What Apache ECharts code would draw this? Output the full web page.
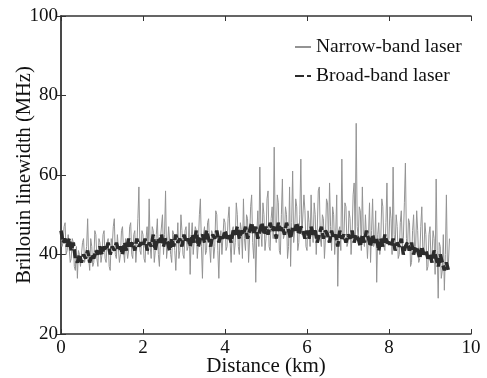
<!DOCTYPE html>
<html>
<head>
<meta charset="utf-8">
<script src="https://cdn.jsdelivr.net/npm/echarts@6/dist/echarts.min.js"></script>
<style>
  html, body { margin: 0; padding: 0; background: #fff; }
  #chart { width: 487px; height: 378px; }
</style>
</head>
<body>
<div id="chart"></div>
<script>
var dom = document.getElementById("chart");
var myChart = echarts.init(dom);

// sampling steps along the fibre (km)
var narrowStep = 0.025;
var broadStep = 0.05;

// Narrow-band laser, MHz (one value per 0.025 km)
var narrowBand = [
    46, 42, 43, 47, 48, 40, 41, 45, 45, 38, 39, 44, 43, 37, 36, 42, 34, 41, 40, 37,
    37, 43, 44, 38, 38, 42, 49, 39, 36, 44, 42, 37, 38, 46, 45, 39, 37, 44, 43, 38,
    40, 45, 46, 39, 38, 43, 44, 37, 36, 44, 42, 47, 49, 40, 39, 45, 45, 38, 40, 46,
    47, 41, 38, 44, 44, 39, 41, 47, 48, 40, 39, 45, 46, 38, 42, 49, 57, 41, 40, 46,
    45, 39, 38, 44, 47, 40, 54, 42, 39, 47, 46, 38, 41, 45, 49, 40, 37, 44, 44, 50,
    40, 45, 56, 39, 42, 47, 47, 40, 38, 46, 45, 41, 36, 43, 48, 39, 41, 50, 46, 40,
    39, 46, 47, 41, 42, 48, 35, 44, 48, 40, 40, 47, 46, 39, 43, 50, 54, 42, 34, 45,
    47, 40, 41, 48, 49, 42, 38, 46, 45, 39, 42, 51, 50, 41, 34, 44, 46, 40, 40, 49,
    48, 41, 42, 49, 52, 43, 38, 46, 47, 40, 43, 53, 50, 42, 40, 48, 46, 39, 54, 44,
    41, 50, 49, 38, 44, 52, 55, 43, 39, 47, 33, 45, 51, 42, 62, 46, 42, 53, 50, 41,
    44, 54, 56, 42, 41, 49, 52, 44, 67, 46, 43, 55, 53, 41, 40, 50, 59, 44, 45, 52,
    50, 39, 42, 57, 37, 48, 61, 43, 46, 54, 52, 41, 43, 50, 64, 45, 45, 55, 51, 42,
    41, 51, 48, 42, 55, 46, 43, 53, 50, 40, 46, 56, 57, 44, 42, 50, 49, 39, 44, 54,
    53, 43, 58, 47, 41, 52, 50, 40, 45, 55, 32, 46, 47, 41, 64, 45, 44, 53, 52, 42,
    43, 51, 49, 40, 45, 55, 58, 44, 73, 47, 44, 52, 51, 41, 57, 45, 42, 50, 50, 39,
    45, 53, 38, 46, 54, 42, 43, 51, 33, 45, 48, 40, 44, 54, 52, 42, 41, 48, 58, 43,
    44, 52, 49, 40, 62, 45, 42, 50, 47, 39, 40, 48, 51, 42, 44, 53, 63, 44, 41, 49,
    48, 37, 38, 46, 50, 41, 42, 51, 46, 38, 39, 47, 52, 41, 40, 48, 45, 36, 37, 45,
    47, 38, 40, 46, 44, 35, 59, 41, 29, 43, 42, 34, 36, 45, 31, 40, 55, 37, 38, 44
];

// Broad-band laser, MHz (one value per 0.05 km)
var broadBand = [
    46, 43, 44, 42, 44, 41, 43, 39, 38, 40, 38, 40, 39, 41, 38, 40, 39, 41, 40, 42,
    40, 42, 41, 43, 40, 42, 41, 43, 41, 42, 40, 43, 41, 44, 42, 43, 41, 44, 42, 43,
    42, 44, 41, 43, 42, 45, 41, 44, 43, 45, 42, 44, 43, 41, 44, 42, 45, 43, 44, 42,
    45, 43, 44, 42, 45, 43, 46, 42, 44, 45, 43, 46, 44, 42, 45, 44, 46, 43, 45, 44,
    46, 44, 45, 43, 46, 45, 47, 44, 46, 45, 47, 44, 46, 48, 45, 47, 44, 46, 48, 45,
    47, 45, 48, 46, 47, 44, 48, 46, 47, 45, 48, 46, 44, 47, 46, 48, 45, 47, 46, 44,
    46, 44, 47, 45, 46, 43, 45, 47, 44, 46, 45, 43, 46, 44, 45, 42, 46, 44, 45, 43,
    45, 44, 46, 43, 45, 44, 42, 45, 43, 46, 44, 42, 45, 43, 44, 41, 44, 42, 45, 43,
    43, 42, 44, 41, 43, 42, 44, 40, 42, 43, 41, 43, 40, 42, 41, 39, 42, 40, 41, 39,
    40, 38, 41, 39, 37, 40, 38, 36, 38, 36
];

var xTicks = [0, 2, 4, 6, 8, 10];
var yTicks = [20, 40, 60, 80, 100];

function toPairs(vals, step) {
    return vals.map(function (v, i) { return [+(i * step).toFixed(3), v]; });
}

var font = '"Liberation Serif", "Times New Roman", serif';
var axisColor = '#333';

var option = {
    animation: false,
    textStyle: { fontFamily: font },
    grid: { left: 61, right: 16, top: 16, bottom: 44, outerBoundsMode: 'none', containLabel: false },
    legend: {
        orient: 'vertical',
        left: 289,
        top: 32,
        itemGap: 9,
        itemWidth: 16,
        itemHeight: 10,
        itemStyle: { opacity: 0 },
        textStyle: { fontFamily: font, fontSize: 19.5, color: '#111' },
        data: ['Narrow-band laser', 'Broad-band laser']
    },
    xAxis: [{
        type: 'value',
        min: xTicks[0],
        max: xTicks[xTicks.length - 1],
        interval: 2,
        name: 'Distance (km)',
        nameLocation: 'middle',
        nameGap: 22,
        nameMoveOverlap: false,
        nameTextStyle: { fontFamily: font, fontSize: 21, color: '#111' },
        axisLine: { show: true, lineStyle: { color: axisColor, width: 1.5 } },
        axisTick: { show: true, inside: true, length: 5, lineStyle: { color: axisColor } },
        axisLabel: { fontFamily: font, fontSize: 19, color: '#111', margin: 5 },
        splitLine: { show: false }
    }, {
        type: 'value',
        position: 'top',
        min: xTicks[0],
        max: xTicks[xTicks.length - 1],
        interval: 2,
        axisLine: { show: true, lineStyle: { color: axisColor, width: 1.5 } },
        axisTick: { show: true, inside: true, length: 5, lineStyle: { color: axisColor } },
        axisLabel: { show: false },
        splitLine: { show: false }
    }],
    yAxis: [{
        type: 'value',
        min: yTicks[0],
        max: yTicks[yTicks.length - 1],
        interval: 20,
        name: 'Brillouin linewidth (MHz)',
        nameLocation: 'middle',
        nameGap: 26,
        nameMoveOverlap: false,
        nameTextStyle: { fontFamily: font, fontSize: 20.5, color: '#111' },
        axisLine: { show: true, lineStyle: { color: '#666', width: 1.5 } },
        axisTick: { show: true, inside: true, length: 5, lineStyle: { color: axisColor } },
        axisLabel: { fontFamily: font, fontSize: 19, color: '#111', margin: 3 },
        splitLine: { show: false }
    }, {
        type: 'value',
        position: 'right',
        min: yTicks[0],
        max: yTicks[yTicks.length - 1],
        interval: 20,
        axisLine: { show: true, lineStyle: { color: axisColor, width: 1.5 } },
        axisTick: { show: true, inside: true, length: 5, lineStyle: { color: axisColor } },
        axisLabel: { show: false },
        splitLine: { show: false }
    }],
    series: [{
        name: 'Narrow-band laser',
        type: 'line',
        data: toPairs(narrowBand, narrowStep),
        symbol: 'none',
        lineStyle: { color: '#939393', width: 1 },
        itemStyle: { color: '#939393' }
    }, {
        name: 'Broad-band laser',
        type: 'line',
        data: toPairs(broadBand, broadStep),
        symbol: 'none',
        lineStyle: { color: '#2b2b2b', width: 3.5, type: [9, 3] },
        itemStyle: { color: '#2b2b2b' }
    }]
};

if (option && typeof option === 'object') {
    myChart.setOption(option);
}
</script>
</body>
</html>
